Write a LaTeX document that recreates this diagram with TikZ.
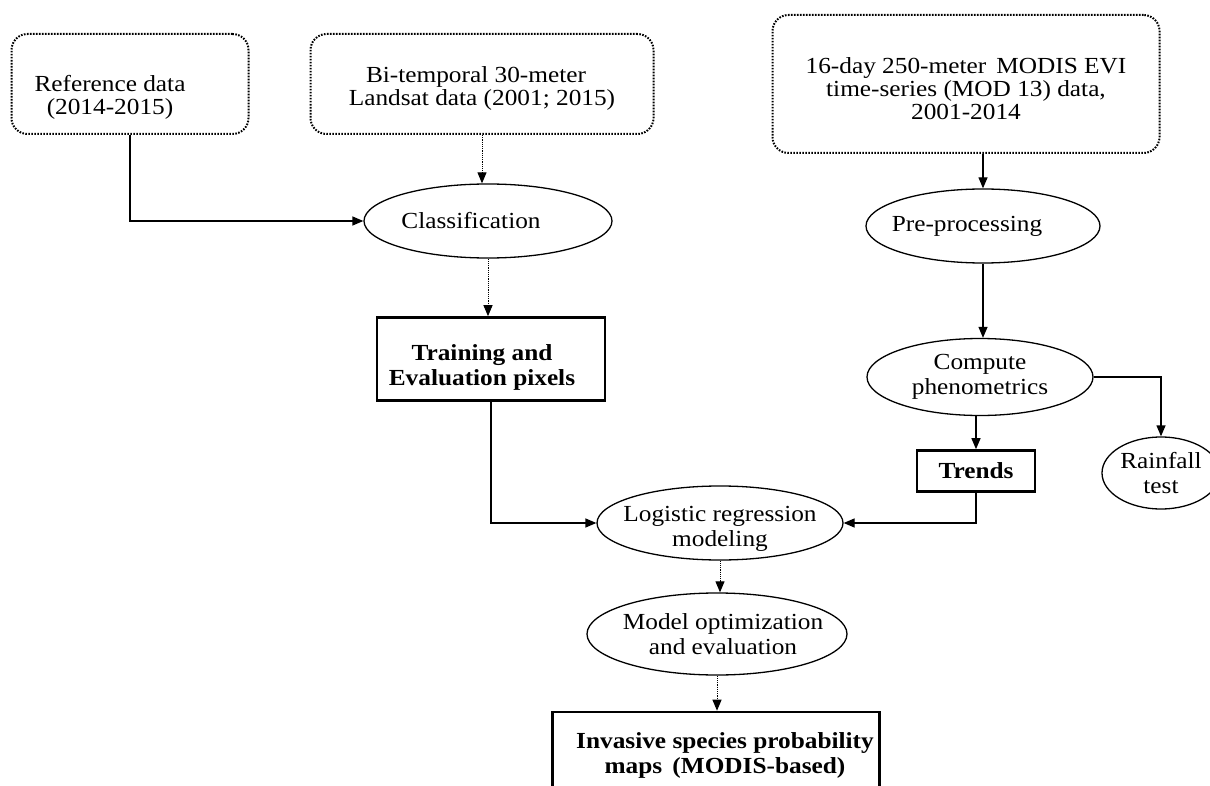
\documentclass[tikz,border=0pt]{standalone}
\usepackage{fontspec}
\setmainfont{Liberation Serif}[FakeStretch=1.1]
\usepackage{tikz}
\usetikzlibrary{positioning, shapes, arrows.meta, calc}
\newcommand{\txt}{\fontsize{23}{25}\selectfont}
\newcommand{\txtdata}{\fontsize{23}{23}\selectfont}
\tikzset{%
  databox/.style  = {draw, rounded corners = 16pt, line width = 2pt,
    dash pattern = on 1.6pt off 1.4pt, align = center, font = \txtdata},
  process/.style  = {draw, ellipse, line width = 1.3pt, inner xsep = -16pt,
    inner ysep = -8pt, align = center, font = \txt}, % ellipse step
  block/.style    = {draw, rectangle, line width = 2.6pt, inner sep = 0pt,
    align = center, font = \txt\bfseries}, % result box
  arr/.style      = {-{Triangle[length = 11pt, width = 9pt]}, line width = 1.3pt},
  darr/.style     = {arr, line width = 1pt, dash pattern = on 1.2pt off 1pt}
}

\begin{document}
\begin{tikzpicture}[x = 1pt, y = -1pt]
\useasboundingbox (0,0) rectangle (1210,786);
\clip (0,0) rectangle (1210,786);
%input data
\draw
	(130,84) node [databox, minimum width = 237pt, minimum height = 100pt] (ref)
		{\rule{0pt}{42pt}Reference data\hspace*{40pt}\\(2014-2015)\hspace*{40pt}}
	(482,84) node [databox, minimum width = 343pt, minimum height = 100pt] (landsat)
		{\rule{0pt}{24pt}Bi-temporal 30-meter\hspace*{12pt}\\Landsat data (2001; 2015)}
	(966,84) node [databox, minimum width = 387pt, minimum height = 138pt] (modis)
		{\rule{0pt}{26pt}16-day 250-meter\, MODIS EVI\\time-series (MOD 13) data,\\2001-2014};
%processing steps
\draw
	(488,221) node [process, minimum width = 248pt, minimum height = 74pt] (classif) {\hspace*{-34pt}Classification}
	(491,359) node [block, minimum width = 228pt, minimum height = 83pt] (train)
		{\rule{0pt}{32pt}Training and\hspace*{18pt}\\Evaluation pixels\hspace*{18pt}}
	(983,226) node [process, minimum width = 234pt, minimum height = 74pt] (prep) {\hspace*{-32pt}Pre-processing}
	(980,377) node [process, minimum width = 226pt, minimum height = 77pt] (pheno) {Compute\\phenometrics}
	(976,471) node [block, minimum width = 118pt, minimum height = 41pt] (trends) {Trends}
	(1161,473) node [process, minimum width = 118pt, minimum height = 72pt] (rain) {Rainfall\\test}
	(720,523) node [process, minimum width = 246pt, minimum height = 74pt] (logit)
		{\rule{0pt}{26pt}Logistic regression\\modeling}
	(717,634) node [process, minimum width = 260pt, minimum height = 82pt] (optim)
		{Model optimization\hspace*{-12pt}\\and evaluation\hspace*{-12pt}}
	(716,755) node [block, minimum width = 327pt, minimum height = 86pt] (maps)
		{\hspace*{18pt}Invasive species probability\\\hspace*{18pt}maps\, (MODIS-based)};
%left branch
\draw[arr] (ref.south) |- (classif.west);
\draw[darr] (landsat.south) -- (landsat.south |- classif.north);
\draw[darr] (classif.south) -- (classif.south |- train.north);
\draw[arr] (train.south) |- (logit.west);
%right branch
\draw[arr] (prep.north |- modis.south) -- (prep.north);
\draw[arr] (prep.south) -- (prep.south |- pheno.north);
\draw[arr] (trends.north |- pheno.south) -- (trends.north);
\draw[arr] (pheno.east) -| (rain.north);
\draw[arr] (trends.south) |- (logit.east);
%model chain
\draw[darr] (logit.south) -- (logit.south |- optim.north);
\draw[darr] (optim.south) -- (optim.south |- maps.north);
\end{tikzpicture}
\end{document}
